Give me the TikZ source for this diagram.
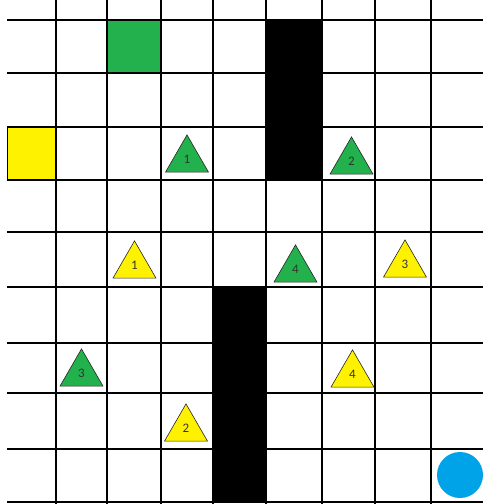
\documentclass[tikz,border=0pt]{standalone}
\usepackage{fontspec}
\setsansfont{Carlito}
\usepackage{tikz}
\usetikzlibrary{shapes.geometric}
\definecolor{goalgreen}{RGB}{34,177,76}
\definecolor{agentyellow}{RGB}{255,242,0}
\definecolor{robotblue}{RGB}{0,162,232}

\begin{document}
\begin{tikzpicture}[x=1pt,y=-1pt,
  font=\sffamily\fontsize{13}{13}\selectfont,
  gridline/.style={line width=2.8pt,black},
  wall/.style={fill=black},
  tri/.style={regular polygon,regular polygon sides=3,draw=black!85,line width=0.6pt,
              minimum size=49.6pt,inner sep=0pt,text=black!80},
  gtri/.style={tri,fill=goalgreen},
  ytri/.style={tri,fill=agentyellow},
]
\useasboundingbox[fill=white] (0,0) rectangle (483,504);
% Start squares and walls
\fill[goalgreen] (107,20) rectangle (161,73);
\filldraw[fill=agentyellow,draw=black,line width=1pt] (7,127) rectangle (56,180);
\fill[wall] (266,20) rectangle (322,180);
\fill[wall] (213,287) rectangle (266,502);
% Grid
\foreach \y in {20,73,127,180,232,287,343,393,449,502}
  \draw[gridline] (7,\y) -- (483,\y);
\foreach \x in {56,107,161,213,266,322,375,431}
  \draw[gridline] (\x,0) -- (\x,504);
% Green triangles
\node[gtri] (g1) at (187,159.7) {1};
\node[gtri] (g2) at (351.5,161.7) {2};
\node[gtri] (g3) at (81.5,373.7) {3};
\node[gtri] (g4) at (295.5,269.7) {4};
% Yellow triangles
\node[ytri] (y1) at (134.5,265.7) {1};
\node[ytri] (y2) at (186,428.7) {2};
\node[ytri] (y3) at (405,264.7) {3};
\node[ytri] (y4) at (352.5,374.7) {4};
% Goal
\node[circle,fill=robotblue,minimum size=46pt,inner sep=0pt] (goal) at (460,475) {};
\end{tikzpicture}
\end{document}
